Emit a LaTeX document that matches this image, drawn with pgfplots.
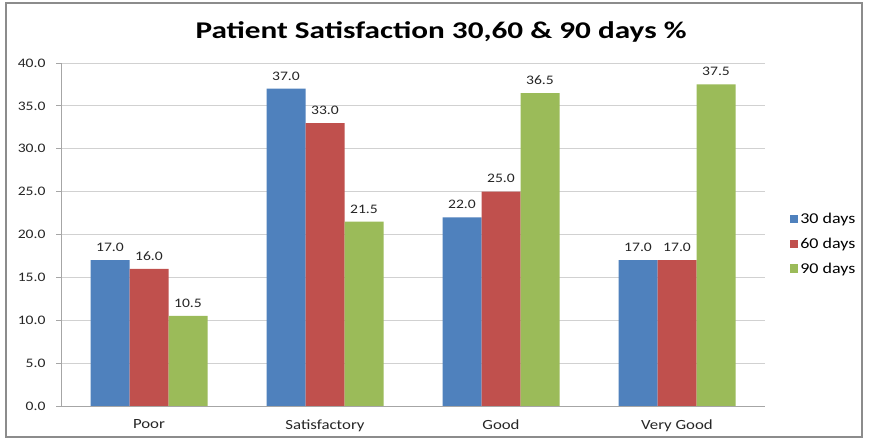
\documentclass[border=0pt]{standalone}
\usepackage{pgfplots}
\pgfplotsset{compat=1.18}
\usepackage{fontspec}
\setmainfont[FakeStretch=1.2]{Carlito}
\newfontfamily\titlefont[FakeStretch=1.3]{Carlito}
\definecolor{c1}{HTML}{4F81BD}
\definecolor{c2}{HTML}{C0504D}
\definecolor{c3}{HTML}{9BBB59}
\begin{document}
\begin{tikzpicture}[x=1bp,y=1bp]
\fill[white] (0,0) rectangle (869,440);
\draw[black!45, line width=1.2bp] (6,3) rectangle (862,437);
\node[font=\titlefont\fontsize{24bp}{28bp}\selectfont\bfseries] at (441,408) {Patient Satisfaction 30,60 \& 90 days \%};
\begin{axis}[
  at={(149bp,34bp)}, anchor=origin,
  scale only axis, width=704bp, height=343bp,
  ymin=0, ymax=40, ytick={0,5,...,40},
  xmin=-0.5, xmax=3.5, xtick={0,1,2,3},
  xticklabels={Poor,Satisfactory,Good,Very Good},
  ybar=0pt, bar width=39bp,
  ymajorgrids, grid style={black!18, line width=0.8bp},
  axis x line*=bottom, axis y line*=left,
  axis line style={black!35, line width=0.8bp},
  tick align=outside, major tick length=5bp,
  ytick style={black!35, line width=0.8bp},
  xtick style={draw=none},
  /pgf/number format/assume math mode=true,
  yticklabel style={/pgf/number format/fixed, /pgf/number format/fixed zerofill, /pgf/number format/precision=1, font=\fontsize{13bp}{15bp}\selectfont, color=black!85, xshift=-7bp},
  xticklabel style={font=\fontsize{14bp}{16bp}\selectfont, color=black!85, yshift=-5bp},
  nodes near coords,
  nodes near coords style={/pgf/number format/fixed, /pgf/number format/fixed zerofill, /pgf/number format/precision=1, /pgf/number format/assume math mode=true, font=\fontsize{13bp}{15bp}\selectfont, color=black!85, yshift=5bp},
  legend style={at={(1.035,0.472)}, anchor=west, draw=none, fill=none, inner sep=0pt, font=\fontsize{15bp}{17bp}\selectfont, row sep=9bp, /tikz/every even column/.append style={column sep=0bp}},
  legend cell align=left,
  legend image code/.code={\fill[#1] (0bp,-4bp) rectangle (8.5bp,4.5bp);},
]
\addplot[fill=c1, draw=none] coordinates {(0,17.0) (1,37.0) (2,22.0) (3,17.0)};
\addplot[fill=c2, draw=none] coordinates {(0,16.0) (1,33.0) (2,25.0) (3,17.0)};
\addplot[fill=c3, draw=none] coordinates {(0,10.5) (1,21.5) (2,36.5) (3,37.5)};
\legend{30 days,60 days,90 days}
\end{axis}
\pgfresetboundingbox
\useasboundingbox (0,0) rectangle (869,440);
\end{tikzpicture}
\end{document}
